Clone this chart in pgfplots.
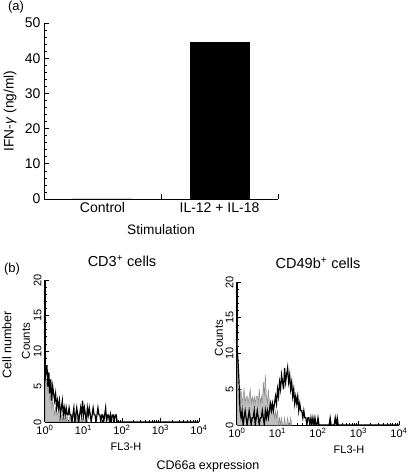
\documentclass[border=0pt]{standalone}
\usepackage{pgfplots}
\pgfplotsset{compat=1.18}
\usepackage{pgfplotstable}
\usepackage{fontspec}
\setmainfont{Liberation Sans}

% CD3+ cells, black line
\pgfplotstableread{
d c
0 8
0.025 7
0.05 8
0.075 5
0.1 7
0.125 4
0.15 6
0.175 3
0.2 5
0.225 4
0.25 3
0.275 4
0.3 2
0.325 3
0.35 2
0.375 3
0.4 1
0.425 2
0.45 3
0.475 1
0.5 2
0.525 1
0.55 2
0.575 1
0.6 1
0.625 2
0.65 1
0.675 1
0.7 0
0.725 1
0.75 2
0.775 0
0.8 1
0.825 2
0.85 1
0.875 0
0.9 1
0.925 2
0.95 1
0.975 3
1.0 1
1.025 2
1.05 1
1.075 0
1.1 2
1.125 1
1.15 2
1.175 1
1.2 0
1.225 1
1.25 2
1.275 1
1.3 1
1.325 0
1.35 1
1.375 2
1.4 1
1.425 1
1.45 0
1.475 1
1.5 1
1.525 0
1.55 1
1.575 2
1.6 0
1.625 1
1.65 1
1.675 0
1.7 1
1.725 0
1.75 1
1.775 1
1.8 0
1.825 1
1.85 1
1.875 0
4 0
}\LeftBlack

% CD3+ cells, grey filled
\pgfplotstableread{
d c
0 6
0.025 5
0.05 6
0.075 4
0.1 5
0.125 3
0.15 4
0.175 2
0.2 3
0.225 2
0.25 1
0.275 2
0.3 1
0.325 1
0.35 2
0.375 0
0.4 1
0.425 1
0.45 0
0.475 1
0.5 0
0.525 1
0.55 0
0.575 1
0.6 0
0.625 0
0.65 1
0.675 0
0.7 1
0.725 0
0.75 0
0.775 1
0.8 0
0.825 1
0.85 0
0.875 1
0.9 0
0.925 0
0.95 1
0.975 0
1.0 1
1.025 0
1.05 0
1.075 1
1.1 0
}\LeftGray

% CD49b+ cells, grey filled
\pgfplotstableread{
d c
0 12
0.025 5
0.05 3
0.075 4
0.1 5
0.125 3
0.15 4
0.175 5
0.2 3
0.225 4
0.25 4
0.275 3
0.3 4
0.325 5
0.35 3
0.375 4
0.4 3
0.425 4
0.45 3
0.475 4
0.5 4
0.525 3
0.55 5
0.575 3
0.6 4
0.625 3
0.65 6
0.675 4
0.7 7
0.725 4
0.75 3
0.775 5
0.8 3
0.825 2
0.85 3
0.875 2
0.9 2
0.925 1
0.95 2
0.975 1
1.0 2
1.025 0
1.05 1
1.075 0
1.1 1
1.125 0
1.15 0
1.175 1
1.2 0
1.225 0
1.25 1
1.275 0
1.3 0
1.325 1
1.35 0
}\RightGray

% CD49b+ cells, black line
\pgfplotstableread{
d c
0 11
0.025 9
0.05 6
0.075 2
0.1 1
0.125 2
0.15 0
0.175 1
0.2 2
0.225 1
0.25 0
0.275 1
0.3 2
0.325 1
0.35 0
0.375 1
0.4 1
0.425 2
0.45 0
0.475 1
0.5 2
0.525 1
0.55 0
0.575 1
0.6 1
0.625 2
0.65 1
0.675 0
0.7 2
0.725 1
0.75 2
0.775 1
0.8 2
0.825 3
0.85 2
0.875 3
0.9 2
0.925 3
0.95 4
0.975 3
1.0 5
1.025 4
1.05 6
1.075 5
1.1 7
1.125 6
1.15 5
1.175 8
1.2 6
1.225 7
1.25 8
1.275 6
1.3 7
1.325 5
1.35 6
1.375 4
1.4 5
1.425 3
1.45 4
1.475 3
1.5 4
1.525 2
1.55 3
1.575 2
1.6 2
1.625 1
1.65 2
1.675 1
1.7 1
1.725 0
1.75 1
1.775 1
1.8 0
1.825 1
1.85 0
1.875 1
1.9 0
1.925 1
1.95 0
1.975 0
2.0 1
2.025 0
2.275 0
2.3 1
2.325 0
2.4 0
2.425 1
2.45 0
2.475 1
2.5 0
4 0
}\RightBlack

\pgfplotsset{
  flowaxis/.style={
    anchor=south west, scale only axis,
    xmin=0, xmax=4, ymin=0, ymax=20,
    axis x line=bottom, axis y line=left,
    axis line style={-},
    x axis line style={line width=0.8pt},
    y axis line style={line width=1.6pt},
    tick align=inside,
    major tick length=4pt, minor tick length=2pt,
    tick style={line width=0.6pt, black},
    xtick={0,1,2,3,4},
    xticklabels={10\textsuperscript{0},10\textsuperscript{1},10\textsuperscript{2},10\textsuperscript{3},10\textsuperscript{4}},
    minor xtick={0.301,0.477,0.602,0.699,0.778,0.845,0.903,0.954,
                 1.301,1.477,1.602,1.699,1.778,1.845,1.903,1.954,
                 2.301,2.477,2.602,2.699,2.778,2.845,2.903,2.954,
                 3.301,3.477,3.602,3.699,3.778,3.845,3.903,3.954},
    ytick={0,5,10,15,20}, minor y tick num=4,
    /pgf/number format/assume math mode=true,
    tick label style={font=\fontsize{11}{12}\selectfont},
    yticklabel style={rotate=90, anchor=south},
    xticklabel style={anchor=north},
    title style={font=\fontsize{14.5}{17}\selectfont, anchor=center},
  },
}

\begin{document}
\begin{tikzpicture}
\useasboundingbox (0,0) rectangle (412pt,474pt);

% ---------- panel (a) ----------
\node[font=\fontsize{13}{15}\selectfont] at (16pt,467pt) {(a)};
\begin{axis}[
  at={(44pt,275pt)}, anchor=south west, scale only axis,
  width=234pt, height=176pt,
  xmin=0, xmax=2, ymin=0, ymax=50,
  axis x line=bottom, axis y line=left,
  axis line style={-, line width=0.9pt},
  tick align=inside,
  major tick length=5pt, minor tick length=2.5pt,
  tick style={line width=0.6pt, black},
  ytick={0,10,20,30,40,50}, minor y tick num=4,
  xtick={0,1,2}, xticklabels={},
  extra x ticks={0.5,1.5},
  extra x tick labels={Control,IL-12 + IL-18},
  extra x tick style={major tick length=0pt},
  /pgf/number format/assume math mode=true,
  tick label style={font=\fontsize{14}{16}\selectfont},
  label style={font=\fontsize{13.7}{16}\selectfont},
  ylabel={IFN-\textit{γ} (ng/ml)},
  ylabel style={at={(axis description cs:-0.145,0.5)}, anchor=center},
  xlabel={Stimulation},
  xlabel style={at={(axis description cs:0.5,-0.176)}, anchor=center},
]
\addplot[ybar, bar shift=0pt, bar width=0.51, fill=gray, draw=gray!70, line width=1pt] coordinates {(0.5,0)};
\addplot[ybar, bar shift=0pt, bar width=0.505, fill=black, draw=black] coordinates {(1.5,44.6)};
\end{axis}

% ---------- panel (b) ----------
\node[font=\fontsize{13}{15}\selectfont] at (12pt,205pt) {(b)};

\begin{axis}[flowaxis,
  at={(45pt,52pt)}, width=154pt, height=142pt,
  title={CD3\textsuperscript{+} cells},
  title style={at={(axis description cs:0.5,1.09)}},
]
\addplot[fill=gray!50, draw=gray!90, line width=0.5pt] table[x=d,y=c] {\LeftGray} \closedcycle;
\addplot[black, line width=1.2pt] table[x=d,y=c] {\LeftBlack};
\end{axis}
\node[rotate=90, font=\fontsize{12.5}{14}\selectfont] at (7pt,129pt) {Cell number};
\node[rotate=90, font=\fontsize{11.5}{13}\selectfont] at (26pt,133pt) {Counts};
\node[font=\fontsize{11}{12}\selectfont] at (126pt,27pt) {FL3-H};

\begin{axis}[flowaxis,
  at={(237pt,49pt)}, width=162pt, height=143pt,
  title={CD49b\textsuperscript{+} cells},
  title style={at={(axis description cs:0.5,1.09)}},
]
\addplot[fill=gray!50, draw=gray!90, line width=0.5pt] table[x=d,y=c] {\RightGray} \closedcycle;
\addplot[black, line width=1.2pt] table[x=d,y=c] {\RightBlack};
\end{axis}
\node[rotate=90, font=\fontsize{11.5}{13}\selectfont] at (219pt,136pt) {Counts};
\node[font=\fontsize{11}{12}\selectfont] at (349pt,24pt) {FL3-H};

\node[font=\fontsize{12.5}{14}\selectfont] at (208pt,8pt) {CD66a expression};
\end{tikzpicture}
\end{document}
